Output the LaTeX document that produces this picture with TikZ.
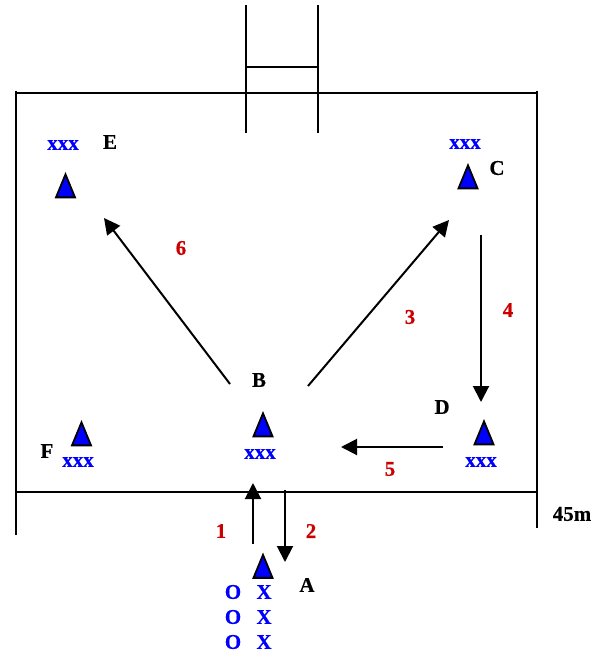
\documentclass[tikz,border=0pt]{standalone}
\usepackage{fontspec}
\setmainfont{Liberation Serif}[BoldFont={Liberation Serif Bold}, BoldFeatures={FakeBold=0.4}]
\usetikzlibrary{arrows.meta,shapes.geometric}
\definecolor{numred}{RGB}{204,0,0}
\tikzset{
    line/.style={line width=2.2pt, black},
    run/.style={line width=2pt, black, -{Triangle[length=16pt, width=16pt]}},
    cone/.style={
        isosceles triangle,
        isosceles triangle stretches,
        shape border rotate=90,
        draw=black,
        line width=1.8pt,
        fill=blue,
        minimum width=19pt,
        minimum height=23pt,
        inner sep=0pt
    },
    letter/.style={font=\fontsize{21}{21}\selectfont\bfseries, black, inner sep=0pt},
    squad/.style={font=\fontsize{21}{21}\selectfont\bfseries, blue, inner sep=0pt},
    number/.style={font=\fontsize{21}{21}\selectfont\bfseries, numred, inner sep=0pt}
}

\begin{document}
\begin{tikzpicture}[x=1pt, y=-1pt]
    \useasboundingbox (0, 0) rectangle (608, 652);

    \draw[line] (16, 93) -- (537, 93);
    \draw[line] (16, 492) -- (537, 492);
    \draw[line] (16, 91) -- (16, 535);
    \draw[line] (537, 91) -- (537, 528);
    \draw[line] (246, 5) -- (246, 133);
    \draw[line] (318, 5) -- (318, 133);
    \draw[line] (246, 67) -- (318, 67);

    \node[cone] (coneE) at (65.5, 191) {};
    \node[cone] (coneC) at (468, 182) {};
    \node[cone] (coneD) at (484, 438) {};
    \node[cone] (coneB) at (263, 430) {};
    \node[cone] (coneF) at (81.5, 439) {};
    \node[cone] (coneA) at (263, 571.5) {};

    \node[squad] (xxxE) at (63, 145) {xxx};
    \node[squad] (xxxC) at (465, 144) {xxx};
    \node[squad] (xxxD) at (481, 462) {xxx};
    \node[squad] (xxxB) at (260, 454) {xxx};
    \node[squad] (xxxF) at (78, 462) {xxx};

    \node[letter] (labelE) at (110, 142) {E};
    \node[letter] (labelC) at (497, 168) {C};
    \node[letter] (labelD) at (442, 407) {D};
    \node[letter] (labelB) at (259, 380) {B};
    \node[letter] (labelF) at (47, 451) {F};
    \node[letter] (labelA) at (307, 585) {A};
    \node[letter] (length) at (572, 514) {45m};

    \node[number] (num1) at (221, 531) {1};
    \node[number] (num2) at (311, 531) {2};
    \node[number] (num3) at (410, 317) {3};
    \node[number] (num4) at (508, 310) {4};
    \node[number] (num5) at (390, 469) {5};
    \node[number] (num6) at (181, 248) {6};

    \foreach \y/\n in {592/1, 617/2, 642/3} {
        \node[squad] (o\n) at (233, \y) {O};
        \node[squad] (x\n) at (264, \y) {X};
    }

    \coordinate (startA) at (253, 544);
    \coordinate (endA) at (253, 483);
    \coordinate (startB) at (285, 490);
    \coordinate (endB) at (285, 562);
    \coordinate (startC) at (308, 386);
    \coordinate (endC) at (449, 220);
    \coordinate (startD) at (481, 235);
    \coordinate (endD) at (481, 402);
    \coordinate (startE) at (443, 447);
    \coordinate (endE) at (341, 447);
    \coordinate (startF) at (230, 384);
    \coordinate (endF) at (104, 218);

    \draw[run] (startA) -- (endA);
    \draw[run] (startB) -- (endB);
    \draw[run] (startC) -- (endC);
    \draw[run] (startD) -- (endD);
    \draw[run] (startE) -- (endE);
    \draw[run] (startF) -- (endF);
\end{tikzpicture}
\end{document}
